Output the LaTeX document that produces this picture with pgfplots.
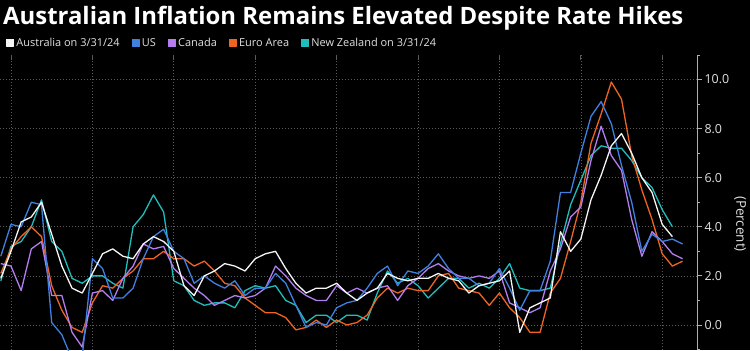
\documentclass[border=0pt]{standalone}
\usepackage{fontspec}
\setmainfont{Open Sans}
\usepackage{pgfplots}
\pgfplotsset{compat=1.18}
\usepackage{pgfplotstable}
\definecolor{auc}{RGB}{245,245,245}
\definecolor{usc}{RGB}{64,128,224}
\definecolor{cac}{RGB}{180,125,240}
\definecolor{euc}{RGB}{240,100,35}
\definecolor{nzc}{RGB}{30,190,190}
\definecolor{gridc}{RGB}{90,90,90}
\definecolor{axc}{RGB}{175,175,175}
\definecolor{txt}{RGB}{225,225,225}

\pgfplotstableread{
t AU US CA EU NZ
2007.75 1.9 2.8 2.5 2.1 1.8
2008.00 3.0 4.1 2.4 3.1 3.2
2008.25 4.2 4.0 1.4 3.6 3.4
2008.50 4.4 5.0 3.1 4.0 4.0
2008.75 5.0 4.9 3.4 3.6 5.1
2009.00 3.7 0.1 1.2 1.6 3.4
2009.25 2.4 -0.4 1.2 0.6 3.0
2009.50 1.5 -1.4 -0.3 -0.1 1.9
2009.75 1.3 -1.3 -0.9 -0.3 1.7
2010.00 2.1 2.7 1.3 0.9 2.0
2010.25 2.9 2.3 1.4 1.6 2.0
2010.50 3.1 1.1 1.0 1.5 1.7
2010.75 2.8 1.1 1.9 1.9 1.5
2011.00 2.7 1.5 2.4 2.2 4.0
2011.25 3.3 2.7 3.3 2.7 4.5
2011.50 3.6 3.6 3.1 2.7 5.3
2011.75 3.4 3.9 3.2 3.0 4.6
2012.00 3.0 3.0 2.3 2.7 1.8
2012.25 1.6 2.7 1.9 2.7 1.6
2012.50 1.2 1.7 1.5 2.4 1.0
2012.75 2.0 2.0 1.2 2.6 0.8
2013.00 2.2 1.7 0.8 2.2 0.9
2013.25 2.5 1.5 1.0 1.7 0.9
2013.50 2.4 1.8 1.2 1.6 0.7
2013.75 2.2 1.2 1.1 1.1 1.4
2014.00 2.7 1.5 1.2 0.8 1.6
2014.25 2.9 1.5 1.5 0.5 1.5
2014.50 3.0 2.1 2.4 0.5 1.6
2014.75 2.3 1.7 2.0 0.3 1.0
2015.00 1.7 0.8 1.5 -0.2 0.8
2015.25 1.3 -0.1 1.2 -0.1 0.1
2015.50 1.5 0.1 1.0 0.2 0.4
2015.75 1.5 0.0 1.0 -0.1 0.4
2016.00 1.7 0.7 1.6 0.2 0.1
2016.25 1.3 0.9 1.3 0.0 0.4
2016.50 1.0 1.0 1.5 0.1 0.4
2016.75 1.3 1.5 1.3 0.4 0.2
2017.00 1.5 2.1 1.5 1.1 1.3
2017.25 2.1 2.4 1.6 1.5 2.2
2017.50 1.9 1.6 1.0 1.3 1.7
2017.75 1.8 2.2 1.6 1.5 1.9
2018.00 1.9 2.1 1.9 1.4 1.6
2018.25 1.9 2.4 2.3 1.4 1.1
2018.50 2.1 2.9 2.5 2.0 1.5
2018.75 1.9 2.3 2.2 2.1 1.9
2019.00 1.8 1.9 2.0 1.5 1.9
2019.25 1.3 1.9 1.9 1.4 1.5
2019.50 1.6 1.6 2.0 1.3 1.7
2019.75 1.7 1.7 1.9 0.8 1.5
2020.00 1.8 2.3 2.2 1.3 1.9
2020.25 2.2 1.5 0.9 0.7 2.5
2020.50 -0.3 0.6 0.7 0.3 1.5
2020.75 0.7 1.4 0.5 -0.3 1.4
2021.00 0.9 1.4 0.7 -0.3 1.4
2021.25 1.1 2.6 2.2 1.3 1.5
2021.50 3.8 5.4 3.1 1.9 3.3
2021.75 3.0 5.4 4.4 3.4 4.9
2022.00 3.5 7.0 4.8 5.0 5.9
2022.25 5.1 8.5 6.7 7.4 6.9
2022.50 6.1 9.1 8.1 8.6 7.3
2022.75 7.3 8.2 6.9 9.9 7.2
2023.00 7.8 6.5 6.3 9.2 7.2
2023.25 7.0 5.0 4.3 6.9 6.7
2023.50 6.0 3.0 2.8 5.5 6.0
2023.75 5.4 3.7 3.8 4.3 5.6
2024.00 4.1 3.4 3.4 2.9 4.7
2024.25 3.6 3.5 2.9 2.4 4.0
2024.50 nan 3.3 2.7 2.6 nan
}\data

\begin{document}
\begin{tikzpicture}[x=1bp,y=1bp]
\fill[black] (0,0) rectangle (750,350);
\path[use as bounding box] (0,0) rectangle (750,350);
\node[anchor=base west, inner sep=0, text=white, font=\fontsize{24}{28}\selectfont\bfseries] at (3,326) {Australian Inflation Remains Elevated Despite Rate Hikes};
\begin{axis}[
  at={(0,0)}, anchor=south west,
  scale only axis, width=697bp, height=295bp,
  xmin=2007.73, xmax=2024.855, ymin=-1.02, ymax=11,
  axis x line*=top, axis y line*=right,
  axis line style={-},
  x axis line style={draw=none},
  y axis line style={draw=axc, line width=0.8bp},
  xtick={2008,2010,...,2024}, xticklabels={},
  xtick align=inside, ytick align=outside,
  major tick length=5bp, minor tick length=3bp,
  xtick style={draw=gridc, line width=0.7bp},
  ytick style={draw=axc, line width=0.8bp},
  minor ytick={-1,1,...,11},
  ytick={0,2,...,10},
  xmajorgrids, ymajorgrids,
  grid style={draw=gridc, line width=0.6bp, dash pattern=on 1bp off 2bp},
  yticklabel style={text=txt, font=\fontsize{12.5}{14}\selectfont, xshift=-1bp},
  yticklabel={\pgfmathprintnumber[fixed, fixed zerofill, precision=1, assume math mode=true]{\tick}},
  ylabel={(Percent)},
  every axis y label/.style={at={(axis description cs:1.0617,0.427)}, rotate=-90, anchor=center, text=txt, font=\fontsize{13.5}{15}\selectfont},
  legend columns=5,
  legend style={at={(axis description cs:0,1)}, anchor=south west, xshift=6bp, yshift=4.5bp, draw=none, fill=none, text=txt, font=\fontsize{11}{13}\selectfont, /tikz/every even column/.append style={column sep=10bp}, inner sep=0pt},
  legend image code/.code={\fill[#1] (0bp,-3bp) rectangle (7bp,4bp);},
  every axis plot/.append style={line width=1.3bp, line join=round},
]
\addplot[color=nzc, forget plot] table[x=t, y=NZ] {\data};
\addplot[color=euc, forget plot] table[x=t, y=EU] {\data};
\addplot[color=cac, forget plot] table[x=t, y=CA] {\data};
\addplot[color=usc, forget plot] table[x=t, y=US] {\data};
\addplot[color=auc, forget plot] table[x=t, y=AU] {\data};
\addlegendimage{color=auc}\addlegendentry{Australia on 3/31/24}
\addlegendimage{color=usc}\addlegendentry{US}
\addlegendimage{color=cac}\addlegendentry{Canada}
\addlegendimage{color=euc}\addlegendentry{Euro Area}
\addlegendimage{color=nzc}\addlegendentry{New Zealand on 3/31/24}
\end{axis}
\end{tikzpicture}
\end{document}
